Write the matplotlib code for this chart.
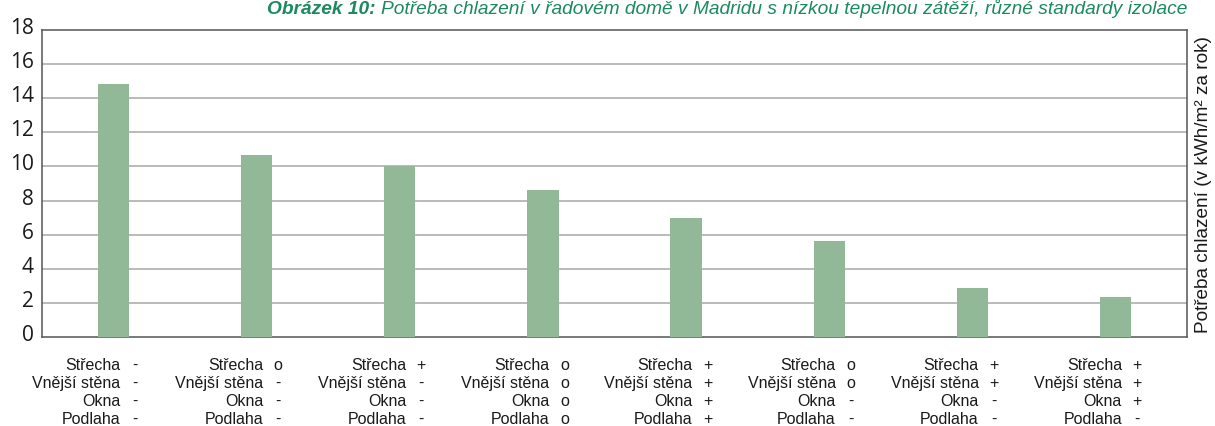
import matplotlib
matplotlib.use("Agg")
import matplotlib.pyplot as plt
import matplotlib.transforms as mtransforms

# ---- data ----
values = [14.85, 10.7, 10.0, 8.6, 6.95, 5.6, 2.85, 2.35]
strecha = ["-", "o", "+", "o", "+", "o", "+", "+"]
stena = ["-", "-", "-", "o", "+", "o", "+", "+"]
okna = ["-", "-", "-", "o", "+", "-", "-", "+"]
podlaha = ["-", "-", "-", "o", "+", "-", "-", "-"]
row_names = ["Střecha", "Vnější stěna", "Okna", "Podlaha"]
yticks = [0, 2, 4, 6, 8, 10, 12, 14, 16, 18]
title_bold = "Obrázek 10:"
title_rest = "Potřeba chlazení v řadovém domě v Madridu s nízkou tepelnou zátěží, různé standardy izolace"
ylabel = "Potřeba chlazení (v kWh/m² za rok)"

W, H = 1215, 427
DPI = 100
fig = plt.figure(figsize=(W / DPI, H / DPI), dpi=DPI)
ax_l, ax_r, ax_t, ax_b = 42, 1187, 31, 338
ax = fig.add_axes([ax_l / W, 1 - ax_b / H, (ax_r - ax_l) / W, (ax_b - ax_t) / H])

bar_color = "#91b897"
grid_color = "#b4b4b4"
spine_color = "#555555"
green = "#1b8a5f"
text_color = "#1a1a1a"

x = list(range(len(values)))
ax.bar(x, values, width=0.218, color=bar_color, zorder=3)
ax.set_xlim(-0.5, len(values) - 0.5)
ax.set_ylim(0, 18)
ax.set_yticks(yticks)
for yv in yticks[1:-1]:
    ax.axhline(yv, color=grid_color, lw=1.3, zorder=1)
for s in ax.spines.values():
    s.set_color(spine_color)
    s.set_linewidth(1.1)
ax.set_xticks([])
ax.tick_params(axis="y", length=0, pad=6, labelsize=15, labelcolor=text_color)
for lab in ax.get_yticklabels():
    lab.set_fontfamily("Open Sans")
    lab.set_transform(lab.get_transform() + mtransforms.ScaledTranslation(0, 0.05, fig.dpi_scale_trans))

# category labels
font_lbl = dict(fontfamily="Liberation Sans", fontsize=11.5, color=text_color)
rows = [strecha, stena, okna, podlaha]
baselines = [370, 388, 406, 424]
tr = mtransforms.blended_transform_factory(ax.transData, fig.transFigure)
for i in x:
    for r, (name, syms) in enumerate(zip(row_names, rows)):
        yfig = 1 - baselines[r] / H
        ax.text(i + 6.5 / 143, yfig, name, transform=tr, ha="right", va="baseline",
                clip_on=False, **font_lbl)
        ax.text(i + 21.5 / 143, yfig, syms[i], transform=tr, ha="center", va="baseline",
                clip_on=False, **font_lbl)

# right label
fig.text(1204 / W, 1 - 185 / H, ylabel, rotation=90, ha="center", va="center",
         fontfamily="Liberation Sans", fontsize=13.7, color=text_color)

# title
renderer = fig.canvas.get_renderer()
t2 = fig.text(1187 / W, 1 - 14.5 / H, title_rest, ha="right", va="baseline",
              fontfamily="Liberation Sans", fontstyle="italic", fontsize=13.8, color=green)
bb = t2.get_window_extent(renderer=renderer)
fig.text((bb.x0 - 5) / W, 1 - 14.5 / H, title_bold, ha="right", va="baseline",
         fontfamily="Liberation Sans", fontstyle="italic", fontweight="bold",
         fontsize=13.8, color=green)

fig.savefig("out.png", dpi=DPI)
